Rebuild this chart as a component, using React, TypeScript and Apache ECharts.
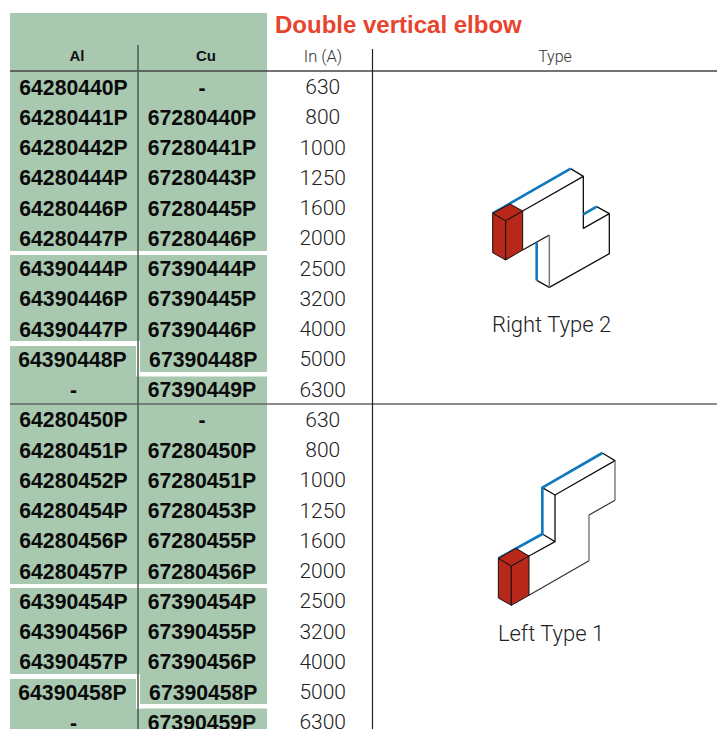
import React, { useEffect, useRef } from "react";
import * as echarts from "echarts";

const title = "Double vertical elbow";
const columnHeads = ["Al", "Cu", "In (A)", "Type"];
const alCodes = [
  "64280440P", "64280441P", "64280442P", "64280444P", "64280446P", "64280447P",
  "64390444P", "64390446P", "64390447P", "64390448P", "-",
  "64280450P", "64280451P", "64280452P", "64280454P", "64280456P", "64280457P",
  "64390454P", "64390456P", "64390457P", "64390458P", "-",
];
const cuCodes = [
  "-", "67280440P", "67280441P", "67280443P", "67280445P", "67280446P",
  "67390444P", "67390445P", "67390446P", "67390448P", "67390449P",
  "-", "67280450P", "67280451P", "67280453P", "67280455P", "67280456P",
  "67390454P", "67390455P", "67390456P", "67390458P", "67390459P",
];
const currents = [
  "630", "800", "1000", "1250", "1600", "2000", "2500", "3200", "4000", "5000", "6300",
  "630", "800", "1000", "1250", "1600", "2000", "2500", "3200", "4000", "5000", "6300",
];
const typeLabels = ["Right Type 2", "Left Type 1"];

const BOLD = "Liberation Sans";
const LIGHT = "Roboto";
const GREEN = "#a9c8b0";
const RED = "#b8281a";
const BLUE = "#0f78be";
const INK = "#111111";
const GREY = "#777777";

const FIRST_ROW = 87.2;
const ROW = 30.24;
const COL_AL = 73.5;
const COL_CU = 202;
const COL_IN = 322.7;
type P = [number, number];

const icon = (ox: number, oy: number, pts: P[]): number[][] =>
  pts.map(([x, y]) => [ox + x / 3, oy + y / 3]);

const poly = (pts: number[][], color: string, width: number) => ({
  type: "polyline",
  silent: true,
  shape: { points: pts },
  style: { stroke: color, lineWidth: width, fill: "none", lineJoin: "round" },
});
const face = (pts: number[][]) => ({
  type: "polygon",
  silent: true,
  shape: { points: pts },
  style: { fill: RED, stroke: INK, lineWidth: 1 },
});
const rect = (x: number, y: number, width: number, height: number, fill: string) => ({
  type: "rect",
  silent: true,
  shape: { x, y, width, height },
  style: { fill },
});
const rule = (x1: number, y1: number, x2: number, y2: number, color: string, w: number) => ({
  type: "line",
  silent: true,
  shape: { x1, y1, x2, y2 },
  style: { stroke: color, lineWidth: w },
});

const rightIcon = (o: P) => {
  const f = (p: P[]) => icon(o[0], o[1], p);
  return [
    poly(f([[158, 168], [340, 64], [340, 220], [418, 176], [418, 296], [238, 397], [200, 376]]), INK, 1.3),
    poly(f([[302, 41], [340, 64]]), INK, 1.3),
    poly(f([[380, 155], [418, 176]]), INK, 1.3),
    poly(f([[158, 285], [238, 240]]), INK, 1.3),
    poly(f([[238, 240], [238, 397]]), GREY, 1.5),
    poly(f([[68, 175], [302, 41]]), BLUE, 2.6),
    poly(f([[340, 178], [380, 155]]), BLUE, 2.6),
    poly(f([[200, 262], [200, 376]]), BLUE, 2.6),
    face(f([[68, 175], [107, 197], [107, 315], [68, 293]])),
    face(f([[107, 197], [158, 168], [158, 285], [107, 315]])),
    face(f([[68, 175], [120, 147], [158, 168], [107, 197]])),
  ];
};
const leftIcon = (o: P) => {
  const f = (p: P[]) => icon(o[0], o[1], p);
  return [
    poly(f([[367, 39], [405, 62], [225, 165], [187, 143]]), INK, 1.3),
    poly(f([[225, 165], [225, 305], [147, 348]]), INK, 1.3),
    poly(f([[187, 282], [225, 305]]), INK, 1.3),
    poly(f([[405, 62], [405, 181]]), GREY, 1.4),
    poly(f([[405, 181], [327, 225]]), "#333333", 1.2),
    poly(f([[327, 225], [327, 362]]), GREY, 1.4),
    poly(f([[327, 362], [147, 466]]), "#333333", 1.2),
    poly(f([[55, 355], [187, 282], [187, 143], [367, 39]]), BLUE, 2.6),
    face(f([[55, 355], [94, 378], [94, 496], [55, 474]])),
    face(f([[94, 378], [147, 348], [147, 466], [94, 496]])),
    face(f([[55, 355], [108, 325], [147, 348], [94, 378]])),
  ];
};

export default function App() {
  const ref = useRef<HTMLDivElement>(null);
  useEffect(() => {
    document.body.style.margin = "0";
    const chart = echarts.init(ref.current!, null, { renderer: "svg" });

    const cells: (string | number)[][] = [];
    alCodes.forEach((t, i) => cells.push([COL_AL + (i % 11 === 9 ? -1 : 0), i, t, "code"]));
    cuCodes.forEach((t, i) => cells.push([COL_CU + (i % 11 === 9 ? 1.3 : 0), i, t, "code"]));
    currents.forEach((t, i) => cells.push([COL_IN, i, t, "amp"]));

    chart.setOption({
      animation: false,
      backgroundColor: "#ffffff",
      grid: { left: 0, right: 0, top: 0, bottom: 0 },
      xAxis: { type: "value", min: 0, max: 717, show: false },
      yAxis: {
        type: "value",
        inverse: true,
        min: -FIRST_ROW / ROW,
        max: (729 - FIRST_ROW) / ROW,
        show: false,
      },
      graphic: {
        elements: [
          { ...rect(10, 13, 257, 716, GREEN), z: -10 },
          { ...rect(10, 251, 257, 4, "#ffffff"), z: -9 },
          { ...rect(10, 341, 127, 5, "#ffffff"), z: -9 },
          { ...rect(136, 341, 4, 35, "#ffffff"), z: -9 },
          { ...rect(136, 372, 131, 4.5, "#ffffff"), z: -9 },
          { ...rect(10, 584, 257, 4, "#ffffff"), z: -9 },
          { ...rect(10, 674, 127, 5, "#ffffff"), z: -9 },
          { ...rect(136, 674, 4, 35, "#ffffff"), z: -9 },
          { ...rect(136, 704, 131, 4.5, "#ffffff"), z: -9 },
          { ...rule(10, 71, 717, 71, "#444444", 1.5), z: -5 },
          { ...rule(10, 404, 717, 404, "#666666", 1.5), z: -5 },
          { ...rule(138, 45, 138, 729, "#4b5a50", 1.5), z: -5 },
          { ...rule(372.5, 49, 372.5, 729, "#222222", 1.2), z: -5 },
          ...rightIcon([470, 155]),
          ...leftIcon([480, 440]),
          {
            type: "text", x: 275, y: 24, silent: true,
            style: { text: title, fill: "#e8432d", font: `bold 24px "${BOLD}"`, textAlign: "left", textVerticalAlign: "middle" },
          },
          { type: "text", x: 77, y: 55, silent: true, style: { text: columnHeads[0], fill: "#111111", font: `bold 15px "${BOLD}"`, textAlign: "center", textVerticalAlign: "middle" } },
          { type: "text", x: 206, y: 55, silent: true, style: { text: columnHeads[1], fill: "#111111", font: `bold 15px "${BOLD}"`, textAlign: "center", textVerticalAlign: "middle" } },
          { type: "text", x: 323, y: 56, silent: true, style: { text: columnHeads[2], fill: "#333333", font: `300 16.5px "${LIGHT}"`, textAlign: "center", textVerticalAlign: "middle" } },
          { type: "text", x: 555, y: 56, silent: true, style: { text: columnHeads[3], fill: "#333333", font: `300 16px "${LIGHT}"`, textAlign: "center", textVerticalAlign: "middle" } },
          { type: "text", x: 551.5, y: 324, silent: true, style: { text: typeLabels[0], fill: "#222222", font: `300 22px "${LIGHT}"`, textAlign: "center", textVerticalAlign: "middle" } },
          { type: "text", x: 551, y: 633, silent: true, style: { text: typeLabels[1], fill: "#222222", font: `300 22px "${LIGHT}"`, textAlign: "center", textVerticalAlign: "middle" } },
        ],
      },
      series: [
        {
          type: "custom",
          coordinateSystem: "cartesian2d",
          silent: true,
          data: cells,
          encode: { x: 0, y: 1 },
          renderItem: (params: any, api: any) => {
            const p = api.coord([api.value(0), api.value(1)]);
            const cell = cells[params.dataIndex];
            const isCode = cell[3] === "code";
            return {
              type: "text",
              x: p[0],
              y: p[1],
              style: {
                text: String(cell[2]),
                fill: isCode ? "#0a0a0a" : "#222222",
                font: isCode ? `bold 21.2px "${BOLD}"` : `300 21px "${LIGHT}"`,
                textAlign: "center",
                textVerticalAlign: "middle",
              },
            };
          },
        },
      ],
    });
    return () => chart.dispose();
  }, []);
  return <div ref={ref} style={{ width: 717, height: 729, position: "fixed", left: 0, top: 0 }} />;
}
